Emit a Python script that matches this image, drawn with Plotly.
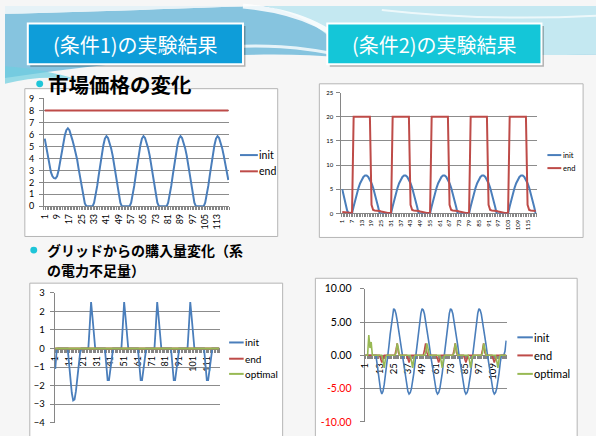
import plotly.graph_objects as go

W, H = 596, 436


def fx(x):
    return x / W


def fy(y):
    return 1 - y / H


# ---------------- data ----------------
categories = list(range(1, 121))

c1_init = [
    5.65, 4.9, 4.1, 3.4, 2.85, 2.5, 2.35, 2.33, 2.5, 3.0, 3.7, 4.5,
    5.3, 5.9, 6.35, 6.5, 6.35, 6.0, 5.5, 5.0, 4.5, 3.9, 3.1, 2.3,
    1.5, 0.8, 0.25, 0, 0, 0, 0, 0, 0.3, 0.9, 1.7, 2.6,
    3.5, 4.4, 5.1, 5.65, 5.85, 5.7, 5.35, 4.85, 4.25, 3.5, 2.65, 1.75,
    0.9, 0.3, 0, 0, 0, 0, 0, 0, 0.3, 0.9, 1.7, 2.6,
    3.5, 4.4, 5.1, 5.65, 5.85, 5.7, 5.35, 4.85, 4.25, 3.5, 2.65, 1.75,
    0.9, 0.3, 0, 0, 0, 0, 0, 0, 0.3, 0.9, 1.7, 2.6,
    3.5, 4.4, 5.1, 5.65, 5.85, 5.7, 5.35, 4.85, 4.25, 3.5, 2.65, 1.75,
    0.9, 0.3, 0, 0, 0, 0, 0, 0, 0.3, 0.9, 1.7, 2.6,
    3.5, 4.4, 5.1, 5.65, 5.85, 5.7, 5.35, 4.85, 4.25, 3.5, 2.8, 2.2]
c1_end = [
    8, 8, 8, 8, 8, 8, 8, 8, 8, 8, 8, 8,
    8, 8, 8, 8, 8, 8, 8, 8, 8, 8, 8, 8,
    8, 8, 8, 8, 8, 8, 8, 8, 8, 8, 8, 8,
    8, 8, 8, 8, 8, 8, 8, 8, 8, 8, 8, 8,
    8, 8, 8, 8, 8, 8, 8, 8, 8, 8, 8, 8,
    8, 8, 8, 8, 8, 8, 8, 8, 8, 8, 8, 8,
    8, 8, 8, 8, 8, 8, 8, 8, 8, 8, 8, 8,
    8, 8, 8, 8, 8, 8, 8, 8, 8, 8, 8, 8,
    8, 8, 8, 8, 8, 8, 8, 8, 8, 8, 8, 8,
    8, 8, 8, 8, 8, 8, 8, 8, 8, 8, 8, 8]

c2_init = [
    5.0, 3.4, 1.9, 0.6, 0, 0, 0, 1.45, 2.85, 4.15, 5.3, 6.25,
    7.0, 7.55, 7.85, 7.85, 7.55, 7.0, 6.25, 5.3, 4.15, 2.85, 1.45, 0,
    0, 0, 0, 0, 0, 0, 0, 1.45, 2.85, 4.15, 5.3, 6.25,
    7.0, 7.55, 7.85, 7.85, 7.55, 7.0, 6.25, 5.3, 4.15, 2.85, 1.45, 0,
    0, 0, 0, 0, 0, 0, 0, 1.45, 2.85, 4.15, 5.3, 6.25,
    7.0, 7.55, 7.85, 7.85, 7.55, 7.0, 6.25, 5.3, 4.15, 2.85, 1.45, 0,
    0, 0, 0, 0, 0, 0, 0, 1.45, 2.85, 4.15, 5.3, 6.25,
    7.0, 7.55, 7.85, 7.85, 7.55, 7.0, 6.25, 5.3, 4.15, 2.85, 1.45, 0,
    0, 0, 0, 0, 0, 0, 0, 1.45, 2.85, 4.15, 5.3, 6.25,
    7.0, 7.55, 7.85, 7.85, 7.55, 7.0, 6.25, 5.3, 4.15, 2.85, 1.45, 0]
c2_end = [
    0.3, 0.25, 0.2, 0.15, 0.1, 0.1, 0.1, 20, 20, 20, 20, 20,
    20, 20, 20, 20, 20, 20, 1.8, 0.7, 0.6, 0.6, 0.5, 0.5,
    0.4, 0.3, 0.2, 0.2, 0.1, 0.1, 0.1, 20, 20, 20, 20, 20,
    20, 20, 20, 20, 20, 20, 1.8, 0.7, 0.6, 0.6, 0.5, 0.5,
    0.4, 0.3, 0.2, 0.2, 0.1, 0.1, 0.1, 20, 20, 20, 20, 20,
    20, 20, 20, 20, 20, 20, 1.8, 0.7, 0.6, 0.6, 0.5, 0.5,
    0.4, 0.3, 0.2, 0.2, 0.1, 0.1, 0.1, 20, 20, 20, 20, 20,
    20, 20, 20, 20, 20, 20, 1.8, 0.7, 0.6, 0.6, 0.5, 0.5,
    0.4, 0.3, 0.2, 0.2, 0.1, 0.1, 0.1, 20, 20, 20, 20, 20,
    20, 20, 20, 20, 20, 20, 1.8, 0.7, 0.6, 0.6, 0.5, 0.5]

c3_init = [
    -1.1, -0.1, 0, 0, 0, 0, 0, 0, 0, 0, -0.8, -1.7,
    -2.4, -2.8, -2.75, -2.3, -1.6, -0.9, -0.25, 0, 0, 0, 0, 0,
    0, 1.2, 2.5, 1.7, 0.9, 0, 0, 0, 0, 0, 0, 0,
    0, -0.85, -1.7, -1.7, -1.2, -0.45, 0, 0, 0, 0, 0, 0,
    0, 1.2, 2.5, 1.7, 0.9, 0, 0, 0, 0, 0, 0, 0,
    0, -0.85, -1.7, -1.7, -1.2, -0.45, 0, 0, 0, 0, 0, 0,
    0, 1.2, 2.5, 1.7, 0.9, 0, 0, 0, 0, 0, 0, 0,
    0, -0.85, -1.7, -1.7, -1.2, -0.45, 0, 0, 0, 0, 0, 0,
    0, 1.2, 2.5, 1.7, 0.9, 0, 0, 0, 0, 0, 0, 0,
    0, -0.85, -1.7, -1.7, -1.2, -0.45, 0, 0, 0, 0, 0, 0]
c3_end = [
    0, 0, 0, 0, 0, 0, 0, 0, 0, 0, 0, 0,
    0, 0, 0, 0, 0, 0, 0, 0, 0, 0, 0, 0,
    0, 0, 0, 0, 0, 0, 0, 0, 0, 0, 0, 0,
    0, 0, 0, 0, 0, 0, 0, 0, 0, 0, 0, 0,
    0, 0, 0, 0, 0, 0, 0, 0, 0, 0, 0, 0,
    0, 0, 0, 0, 0, 0, 0, 0, 0, 0, 0, 0,
    0, 0, 0, 0, 0, 0, 0, 0, 0, 0, 0, 0,
    0, 0, 0, 0, 0, 0, 0, 0, 0, 0, 0, 0,
    0, 0, 0, 0, 0, 0, 0, 0, 0, 0, 0, 0,
    0, 0, 0, 0, 0, 0, 0, 0, 0, 0, 0, 0]
c3_optimal = [
    0, 0, 0, 0, 0, 0, 0, 0, 0, 0, 0, 0,
    0, 0, 0, 0, 0, 0, 0, 0, 0, 0, 0, 0,
    0, 0, 0, 0, 0, 0, 0, 0, 0, 0, 0, 0,
    0, 0, 0, 0, 0, 0, 0, 0, 0, 0, 0, 0,
    0, 0, 0, 0, 0, 0, 0, 0, 0, 0, 0, 0,
    0, 0, 0, 0, 0, 0, 0, 0, 0, 0, 0, 0,
    0, 0, 0, 0, 0, 0, 0, 0, 0, 0, 0, 0,
    0, 0, 0, 0, 0, 0, 0, 0, 0, 0, 0, 0,
    0, 0, 0, 0, 0, 0, 0, 0, 0, 0, 0, 0,
    0, 0, 0, 0, 0, 0, 0, 0, 0, 0, 0, 0]

c4_init = [
    0, 0, 0, 0, 0, 0, 0, 0, 0, 0, -1.3, -2.8,
    -4.2, -5.3, -5.8, -5.4, -4.4, -3.1, -1.7, -0.3, 1.4, 3.1, 4.7, 6.0,
    7.0, 6.8, 6.2, 5.2, 4.0, 2.8, 1.6, 0.3, -1.0, -2.3, -3.5, -4.6,
    -5.4, -5.8, -5.6, -5.0, -4.0, -2.7, -1.1, 0.5, 2.1, 3.7, 5.1, 6.3,
    7.0, 6.8, 6.2, 5.2, 4.0, 2.8, 1.6, 0.3, -1.0, -2.3, -3.5, -4.6,
    -5.4, -5.8, -5.6, -5.0, -4.0, -2.7, -1.1, 0.5, 2.1, 3.7, 5.1, 6.3,
    7.0, 6.8, 6.2, 5.2, 4.0, 2.8, 1.6, 0.3, -1.0, -2.3, -3.5, -4.6,
    -5.4, -5.8, -5.6, -5.0, -4.0, -2.7, -1.1, 0.5, 2.1, 3.7, 5.1, 6.3,
    7.0, 6.8, 6.2, 5.2, 4.0, 2.8, 1.6, 0.3, -1.0, -2.3, -3.5, -4.6,
    -5.4, -5.8, -5.6, -5.0, -4.0, -2.7, -1.1, 0, 0, 0, 0.6, 2.2]
c4_end = [
    0, 0, 0, 0, 0, 0, 0, 0, 0, 0, 0, 0,
    0, -0.5, -1.1, -0.5, 0, 0, 0, 0, 0, 0, 0, 0,
    0, 0, 0.8, 1.8, 0.4, 0, 0, 0, 0, 0, 0, 0,
    -0.5, -1.1, -0.5, 0, 0, 0, 0, 0, 0, 0, 0, 0,
    0, 0, 0.8, 1.8, 0.4, 0, 0, 0, 0, 0, 0, 0,
    0, -0.5, -1.1, -0.5, 0, 0, 0, 0, 0, 0, 0, 0,
    0, 0, 0, 0.8, 1.8, 0.4, 0, 0, 0, 0, 0, 0,
    -0.5, -1.1, -0.5, 0, 0, 0, 0, 0, 0, 0, 0, 0,
    0, 0, 0, 0.8, 1.8, 0.4, 0, 0, 0, 0, 0, 0,
    -0.5, -1.1, -0.5, 0, 0, 0, 0, 0, 0, 0, 0, 0]
c4_optimal = [
    0, 0, 0, 3.05, 1.1, 2.0, 0, 0, 0, 0, 0, 0,
    0, 0, 0, -0.8, -1.9, -0.6, 0, 0, 0, 0, 0, 0,
    0, 0, 0.3, 1.8, 1.0, 0, 0, 0, 0, 0, 0, 0,
    0, 0, 0, -0.8, -1.9, -0.6, 0, 0, 0, 0, 0, 0,
    0, 0, 0, 0.3, 1.8, 1.0, 0, 0, 0, 0, 0, 0,
    0, 0, 0, 0, -0.8, -1.9, -0.6, 0, 0, 0, 0, 0,
    0, 0, 0, 0.3, 1.8, 1.0, 0, 0, 0, 0, 0, 0,
    0, 0, 0, 0, -0.8, -1.9, -0.6, 0, 0, 0, 0, 0,
    0, 0, 0, 0.3, 1.8, 1.0, 0, 0, 0, 0, 0, 0,
    0, 0, 0, -0.8, -1.9, -0.6, 0, 0, 0, 0, 0, 0]

series_names = ["init", "end", "optimal"]

c1_xticks = [1, 9, 17, 25, 33, 41, 49, 57, 65, 73, 81, 89, 97, 105, 113]
c2_xticks = [1, 7, 13, 19, 25, 31, 37, 43, 49, 55, 61, 67, 73, 79, 85, 91, 97, 103, 109, 115]
c3_xticks = [1, 11, 21, 31, 41, 51, 61, 71, 81, 91, 101, 111]
c4_xticks = [1, 13, 25, 37, 49, 61, 73, 85, 97, 109]
c1_yticks = [0, 1, 2, 3, 4, 5, 6, 7, 8, 9]
c2_yticks = [0, 5, 10, 15, 20, 25]
c3_yticks = [-4, -3, -2, -1, 0, 1, 2, 3]
c4_yticks = [-10, -5, 0, 5, 10]

title1 = "(条件1)の実験結果"
title2 = "(条件2)の実験結果"
bullet1 = "市場価格の変化"
bullet2_lines = ["グリッドからの購入量変化（系", "の電力不足量）"]

# ---------------- style ----------------
BLUE = "#4A7EBB"
RED = "#BE4B48"
GREEN = "#98B954"
GRID = "#8C8C8C"
AXIS = "#868686"
TF = "Lato"
JP = "Noto Sans CJK JP"

fig = go.Figure()


def add_series(xa, ya, ys, color, width):
    fig.add_trace(go.Scatter(x=categories, y=ys, mode="lines",
                             line=dict(color=color, width=width),
                             xaxis=xa, yaxis=ya, showlegend=False,
                             hoverinfo="skip"))


add_series("x", "y", c1_init, BLUE, 2)
add_series("x", "y", c1_end, RED, 2)
add_series("x2", "y2", c2_init, BLUE, 2)
add_series("x2", "y2", c2_end, RED, 2)
add_series("x3", "y3", c3_init, BLUE, 1.8)
add_series("x3", "y3", c3_end, RED, 1.8)
add_series("x3", "y3", c3_optimal, GREEN, 1.8)
add_series("x4", "y4", c4_init, BLUE, 1.6)
add_series("x4", "y4", c4_end, RED, 1.6)
add_series("x4", "y4", c4_optimal, GREEN, 1.6)


def xaxis_def(left, right, tickvals, size, anchor=None, position=None):
    d = dict(domain=[fx(left), fx(right)], range=[0.5, 120.5],
             tickmode="array", tickvals=tickvals, tickangle=-90,
             tickfont=dict(family=TF, size=size, color="#000"),
             showgrid=False, zeroline=False, showline=True,
             linecolor=AXIS, linewidth=1, ticks="",
             ticklabelstandoff=3, layer="below traces",
             minor=dict(tickmode="linear", tick0=0.5, dtick=1,
                        ticks="outside", ticklen=3, tickcolor=AXIS,
                        tickwidth=1, showgrid=False),
             fixedrange=True)
    if position is None:
        d["anchor"] = anchor
    else:
        d["anchor"] = "free"
        d["position"] = position
    return d


def yaxis_def(top, bottom, rng, tickvals, size, anchor, ticktext=None,
              standoff=2):
    d = dict(domain=[fy(bottom), fy(top)], range=rng, tickmode="array",
             tickvals=tickvals,
             tickfont=dict(family=TF, size=size, color="#000"),
             showgrid=True, gridcolor=GRID, gridwidth=1, zeroline=False,
             showline=True, linecolor=AXIS, linewidth=1, ticks="outside",
             ticklen=4, tickcolor=AXIS, anchor=anchor,
             ticklabelstandoff=standoff, layer="below traces",
             fixedrange=True)
    if ticktext is not None:
        d["ticktext"] = ticktext
    return d


# plot area pixel boxes
P1 = (39.3, 226.0, 95.0, 206.0)
P2 = (339.3, 536.0, 89.0, 213.3)
P3 = (50.0, 216.7, 295.0, 428.5)
P4 = (362.7, 506.0, 290.7, 427.7)

c3_range = [-4, 3]
c4_range = [-10, 10]


def zero_position(p, rng):
    b, t = fy(p[3]), fy(p[2])
    return b + (0 - rng[0]) / (rng[1] - rng[0]) * (t - b)


c4_ticktext = []
for v in c4_yticks:
    s = f"{v:.2f}"
    if v < 0:
        s = f'<span style="color:#FF0000">{s}</span>'
    c4_ticktext.append(s)

fig.update_layout(
    xaxis=xaxis_def(P1[0], P1[1], c1_xticks, 9, anchor="y"),
    yaxis=yaxis_def(P1[2], P1[3], [0, 9], c1_yticks, 9, "x", standoff=3),
    xaxis2=xaxis_def(P2[0], P2[1], c2_xticks, 6, anchor="y2"),
    yaxis2=yaxis_def(P2[2], P2[3], [0, 25], c2_yticks, 6, "x2", standoff=2),
    xaxis3=xaxis_def(P3[0], P3[1], c3_xticks, 9,
                     position=zero_position(P3, c3_range)),
    yaxis3=yaxis_def(P3[2], P3[3], c3_range, c3_yticks, 9.5, "x3", standoff=3),
    xaxis4=xaxis_def(P4[0], P4[1], c4_xticks, 9.5,
                     position=zero_position(P4, c4_range)),
    yaxis4=yaxis_def(P4[2], P4[3], c4_range, c4_yticks, 10.5, "x4",
                     ticktext=c4_ticktext, standoff=6),
)

shapes = []
annotations = []


def pth(cmds):
    s = ""
    for c in cmds:
        if isinstance(c, str):
            s += " " + c
        else:
            if s and not s.endswith(("M", "L", "C", "Q")):
                s += " "
            s += f"{fx(c[0]):.5f},{fy(c[1]):.5f}"
    return s.strip()


def rect(x0, y0, x1, y1, fill, line_color=None, lw=0, layer="below"):
    shapes.append(dict(type="rect", xref="paper", yref="paper",
                       x0=fx(x0), x1=fx(x1), y0=fy(y1), y1=fy(y0),
                       fillcolor=fill, layer=layer,
                       line=dict(color=line_color or "rgba(0,0,0,0)",
                                 width=lw)))


def path_shape(cmds, fill=None, line_color=None, lw=0, opacity=1.0):
    shapes.append(dict(type="path", xref="paper", yref="paper",
                       path=pth(cmds), layer="below", opacity=opacity,
                       fillcolor=fill or "rgba(0,0,0,0)",
                       line=dict(color=line_color or "rgba(0,0,0,0)",
                                 width=lw)))


# ---- top decoration ----
path_shape(["M", (0, 8), "C", (90, 6), (190, 2), (250, 0), "L", (596, 0),
            "L", (596, 50), "C", (480, 52), (400, 47), (340, 53),
            "C", (250, 44), (120, 56), (0, 74), "Z"], fill="#86C4DF")
path_shape(["M", (0, 8), "C", (90, 6), (190, 2), (250, 0), "L", (0, 0), "Z"],
           fill="#E6F2F7")
path_shape(["M", (262, 0), "L", (596, 0), "L", (596, 50),
            "C", (480, 52), (400, 47), (345, 52),
            "C", (330, 30), (305, 10), (262, 0), "Z"], fill="#C4E8F1")
path_shape(["M", (240, 0), "C", (300, 6), (335, 25), (352, 52)],
           line_color="white", lw=5, opacity=0.85)
path_shape(["M", (200, 44), "C", (260, 38), (300, 42), (345, 52)],
           line_color="white", lw=3, opacity=0.8)
path_shape(["M", (380, 4), "C", (450, 12), (520, 14), (596, 10)],
           line_color="white", lw=2, opacity=0.7)
path_shape(["M", (0, 62), "C", (25, 64), (50, 68), (75, 76),
            "C", (50, 72), (25, 73), (0, 80), "Z"], fill="#6ECFE0",
           opacity=0.7)

# ---- title boxes ----
rect(25.5, 20.5, 242.5, 62.5, "rgba(0,0,0,0.28)")
rect(23, 18, 240, 60, "#0E9DD9", "white", 2)
rect(327.5, 20.5, 543.5, 62.5, "rgba(0,0,0,0.28)")
rect(325, 18, 541, 60, "#14C6D8", "white", 2)

# ---- chart frames ----
rect(20, 85, 275, 237, "white", "#B5B5B5", 1)
rect(317, 80, 583, 238, "white", "#B5B5B5", 1)
rect(25, 285, 280, 450, "white", "#B5B5B5", 1)
rect(313, 280, 577, 450, "white", "#B5B5B5", 1)

# ---- bullets ----
for cx, cy in [(35, 80), (29, 251)]:
    shapes.append(dict(type="circle", xref="paper", yref="paper",
                       x0=fx(cx - 3.5), x1=fx(cx + 3.5),
                       y0=fy(cy + 3.5), y1=fy(cy - 3.5),
                       fillcolor="#1EC5D8", line=dict(width=0),
                       layer="below"))


def text(t, x, y, size, color="#000", family=JP, xanchor="center",
         weight="normal", align="center"):
    annotations.append(dict(text=t, x=fx(x), y=fy(y), xref="paper",
                            yref="paper", xanchor=xanchor, yanchor="middle",
                            showarrow=False, align=align, borderpad=0,
                            font=dict(family=family, size=size, color=color,
                                      weight=weight)))


text(title1, 131.5, 39.5, 20, color="white")
text(title2, 433, 39.5, 20, color="white")
text(bullet1, 42, 80, 20.5, xanchor="left", weight="bold")
text(bullet2_lines[0], 41, 250.5, 14, xanchor="left", weight="bold")
text(bullet2_lines[1], 41, 271.5, 14, xanchor="left", weight="bold")


# ---- legends ----
def legend(names, colors, x0, x1, xt, ys, size, lw=2):
    for n, c, y in zip(names, colors, ys):
        shapes.append(dict(type="line", xref="paper", yref="paper",
                           x0=fx(x0), x1=fx(x1), y0=fy(y), y1=fy(y),
                           line=dict(color=c, width=lw), layer="above"))
        text(n, xt, y, size, family=TF, xanchor="left")


legend(series_names[:2], [BLUE, RED], 237, 255, 255.5, [153.3, 170], 10.5)
legend(series_names[:2], [BLUE, RED], 547, 561, 561.5, [153.3, 166.7], 7.5)
legend(series_names, [BLUE, RED, GREEN], 226, 240.7, 241, [346, 362.7, 378.3], 10)
legend(series_names, [BLUE, RED, GREEN], 516.7, 532.3, 532.5,
       [340.7, 359.3, 378.3], 11)

fig.update_layout(
    width=W, height=H, margin=dict(l=0, r=0, t=0, b=0),
    paper_bgcolor="#F6F6F6", plot_bgcolor="rgba(0,0,0,0)",
    shapes=shapes, annotations=annotations, showlegend=False,
    font=dict(family=TF),
)

fig.write_html("out.html")
